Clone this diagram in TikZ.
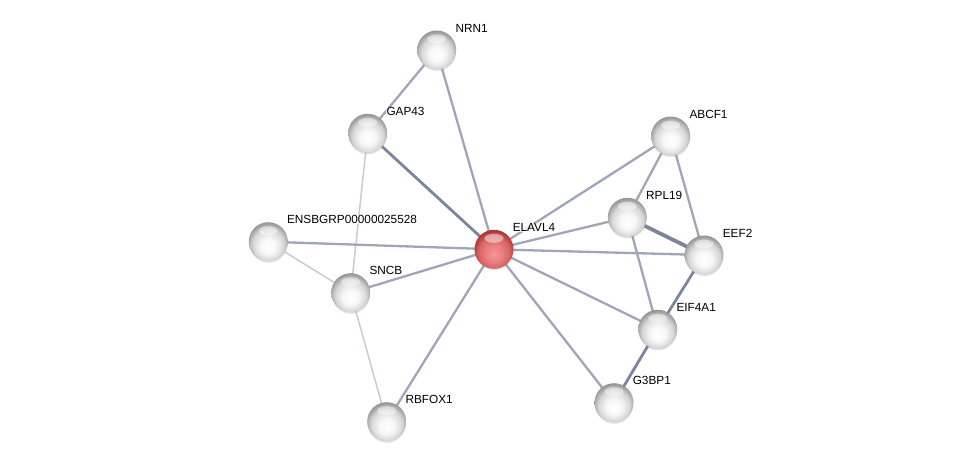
\documentclass[tikz,border=0pt]{standalone}
\usepackage{fontspec}
\setmainfont{Liberation Sans}
\usetikzlibrary{shadows,fadings}
\definecolor{rA}{RGB}{245,150,150}
\definecolor{rB}{RGB}{236,128,128}
\definecolor{rC}{RGB}{214,100,100}
\definecolor{rD}{RGB}{178,62,62}
\definecolor{rE}{RGB}{150,45,45}
\pgfdeclareradialshading{grayball}{\pgfpoint{0bp}{-7bp}}{color(0bp)=(white); color(10bp)=(white!97!black); color(20bp)=(black!16); color(26bp)=(black!36); color(30bp)=(black!48); color(50bp)=(black!48)}
\pgfdeclareradialshading{redball}{\pgfpoint{0bp}{-7bp}}{color(0bp)=(rA); color(10bp)=(rB); color(20bp)=(rC); color(26bp)=(rD); color(30bp)=(rE); color(50bp)=(rE)}
\definecolor{edgemid}{RGB}{160,165,184}
\definecolor{edgedark}{RGB}{125,132,158}
\definecolor{edgelight}{RGB}{200,203,214}
\tikzset{
  prot/.style={circle, minimum size=39pt, inner sep=0pt, shading=grayball,
    circular drop shadow={shadow xshift=0pt, shadow yshift=-2pt, shadow scale=1.0, opacity=0.35}},
  protred/.style={prot, shading=redball},
  hl/.style={fill=white, opacity=0.45},
  lbl/.style={anchor=west, inner sep=0.6pt, fill=white, fill opacity=0.75, text opacity=1, font=\fontsize{11.8}{14}\selectfont},
  emid/.style={draw=edgemid, line width=2.3pt},
  edark/.style={draw=edgedark, line width=2.8pt},
  ethick/.style={draw=edgedark, line width=3.8pt},
  elight/.style={draw=edgelight, line width=1.5pt},
}
\begin{document}
\begin{tikzpicture}[x=1pt,y=-1pt]
\useasboundingbox (0,0) rectangle (976,467);
% node positions
\coordinate (pNRN1) at (436.7,50);
\coordinate (pGAP43) at (367.7,133.3);
\coordinate (pENS) at (268.3,241.7);
\coordinate (pSNCB) at (350.7,292.7);
\coordinate (pRBFOX1) at (386.7,421.7);
\coordinate (pELAVL4) at (494,249.3);
\coordinate (pABCF1) at (670.7,136);
\coordinate (pRPL19) at (627.3,217.3);
\coordinate (pEEF2) at (704,255);
\coordinate (pEIF4A1) at (657.7,329.3);
\coordinate (pG3BP1) at (614,402.7);
% edges
\draw[emid] (pNRN1) -- (pGAP43);
\draw[emid] (pNRN1) -- (pELAVL4);
\draw[edark] (pGAP43) -- (pELAVL4);
\draw[elight] (pGAP43) -- (pSNCB);
\draw[elight] (pENS) -- (pSNCB);
\draw[emid] (pENS) -- (pELAVL4);
\draw[emid] (pSNCB) -- (pELAVL4);
\draw[elight] (pSNCB) -- (pRBFOX1);
\draw[emid] (pRBFOX1) -- (pELAVL4);
\draw[emid] (pELAVL4) -- (pABCF1);
\draw[emid] (pELAVL4) -- (pRPL19);
\draw[emid] (pELAVL4) -- (pEEF2);
\draw[emid] (pELAVL4) -- (pEIF4A1);
\draw[emid] (pELAVL4) -- (pG3BP1);
\draw[emid] (pABCF1) -- (pRPL19);
\draw[emid] (pABCF1) -- (pEEF2);
\draw[ethick] (pRPL19) -- (pEEF2);
\draw[emid] (pRPL19) -- (pEIF4A1);
\draw[edark] (pEEF2) -- (pEIF4A1);
\draw[edark] (pEIF4A1) -- (pG3BP1);
% nodes
\foreach \n in {NRN1,GAP43,ENS,SNCB,RBFOX1,ABCF1,RPL19,EEF2,EIF4A1,G3BP1}{
  \node[prot] (\n) at (p\n) {};
  \fill[hl] ([yshift=11pt]p\n) ellipse (9.5pt and 4.5pt);
}
\node[protred] (ELAVL4) at (pELAVL4) {};
\fill[hl] ([yshift=11pt]pELAVL4) ellipse (9.5pt and 4.5pt);
% labels
\foreach \n/\t in {NRN1/NRN1,GAP43/GAP43,ENS/ENSBGRP00000025528,SNCB/SNCB,RBFOX1/RBFOX1,ELAVL4/ELAVL4,ABCF1/ABCF1,RPL19/RPL19,EEF2/EEF2,EIF4A1/EIF4A1,G3BP1/G3BP1}{
  \node[lbl] (l\n) at ([xshift=18pt,yshift=22pt]p\n) {\t};
}
\end{tikzpicture}
\end{document}
